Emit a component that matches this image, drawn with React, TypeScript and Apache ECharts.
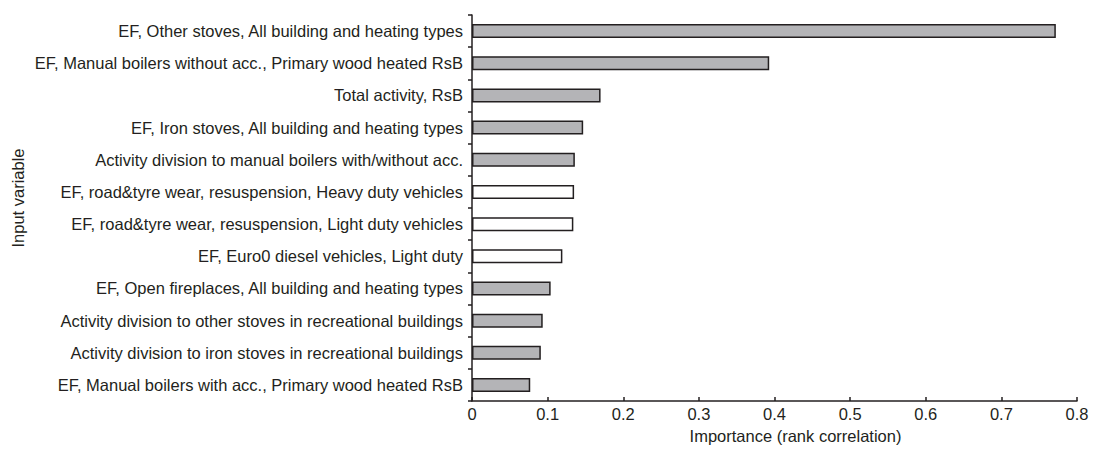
import React, { useEffect, useRef } from "react";
import * as echarts from "echarts";

const categories: string[] = [
  "EF, Other stoves, All building and heating types",
  "EF, Manual boilers without acc., Primary wood heated RsB",
  "Total activity, RsB",
  "EF, Iron stoves, All building and heating types",
  "Activity division to manual boilers with/without acc.",
  "EF, road&tyre wear, resuspension, Heavy duty vehicles",
  "EF, road&tyre wear, resuspension, Light duty vehicles",
  "EF, Euro0 diesel vehicles, Light duty",
  "EF, Open fireplaces, All building and heating types",
  "Activity division to other stoves in recreational buildings",
  "Activity division to iron stoves in recreational buildings",
  "EF, Manual boilers with acc., Primary wood heated RsB",
];

const importance: number[] = [
  0.772, 0.393, 0.170, 0.147, 0.136, 0.135, 0.134, 0.1195, 0.104, 0.0935, 0.091, 0.077,
];

// source group: "wood" = residential wood combustion, "traffic" = road traffic
const sourceGroup: string[] = [
  "wood", "wood", "wood", "wood", "wood",
  "traffic", "traffic", "traffic",
  "wood", "wood", "wood", "wood",
];

const xTicks = { min: 0, max: 0.8, interval: 0.1 };

const DARK = "#231f20";
const FONT = "'Liberation Sans', Arial, sans-serif";
const FS = 16.5;

export default function App() {
  const ref = useRef<HTMLDivElement>(null);

  useEffect(() => {
    if (!ref.current) return;
    const chart = echarts.init(ref.current, undefined, { renderer: "svg" });
    const groupColor: Record<string, string> = { wood: "#b4b4b7", traffic: "#ffffff" };
    chart.setOption({
      animation: false,
      grid: { left: 472, right: 16, top: 15, bottom: 43, containLabel: false },
      xAxis: {
        type: "value",
        min: xTicks.min,
        max: xTicks.max,
        interval: xTicks.interval,
        name: "Importance (rank correlation)",
        nameLocation: "middle",
        nameGap: 25,
        nameTextStyle: { fontFamily: FONT, fontSize: FS, color: DARK, padding: [0, 0, 0, 42] },
        axisLine: { show: true, lineStyle: { color: DARK, width: 1.5 } },
        axisTick: { show: true, inside: true, length: 4, lineStyle: { color: DARK, width: 1.5 } },
        axisLabel: { fontFamily: FONT, fontSize: FS, color: DARK, margin: 4 },
        splitLine: { show: false },
      },
      yAxis: {
        type: "category",
        inverse: true,
        data: categories,
        axisLine: { show: true, lineStyle: { color: DARK, width: 1.5 } },
        axisTick: { show: true, inside: false, length: 4, lineStyle: { color: DARK, width: 1.5 } },
        axisLabel: { fontFamily: FONT, fontSize: FS, color: DARK, margin: 9 },
        splitLine: { show: false },
      },
      graphic: [
        {
          type: "text",
          x: 18,
          y: 198,
          rotation: Math.PI / 2,
          style: {
            text: "Input variable",
            fontFamily: FONT,
            fontSize: FS,
            fill: DARK,
            align: "center",
            verticalAlign: "middle",
          },
        },
      ],
      series: [
        {
          type: "bar",
          barWidth: 14,
          data: importance.map((v, i) => ({
            value: v,
            itemStyle: {
              color: groupColor[sourceGroup[i]],
              borderColor: DARK,
              borderWidth: 1.5,
            },
          })),
        },
      ],
    });
    return () => chart.dispose();
  }, []);

  return <div ref={ref} style={{ width: 1093, height: 449, position: "absolute", left: 0, top: 0 }} />;
}
